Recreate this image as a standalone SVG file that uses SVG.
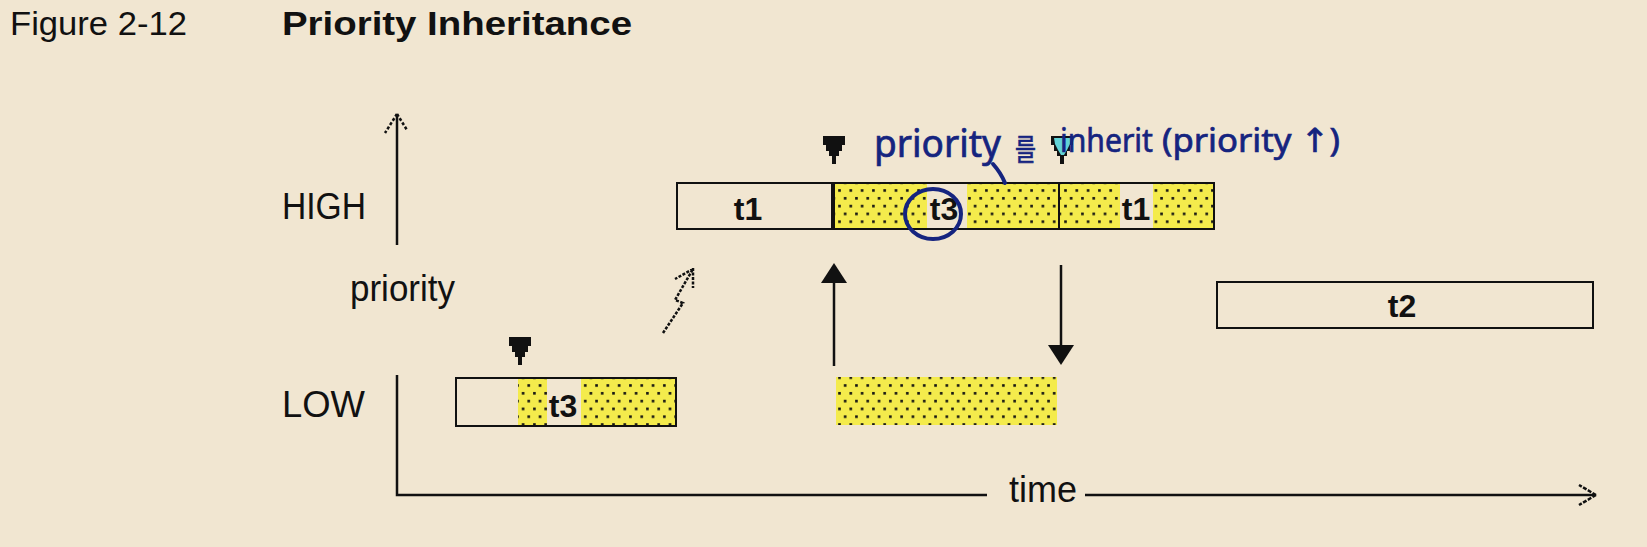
<svg xmlns="http://www.w3.org/2000/svg" width="1647" height="547" viewBox="0 0 1647 547">
<style>
.cap{font-family:"Liberation Sans",Arial,sans-serif;font-size:34px;fill:#111}
.ax{font-family:"Liberation Sans",Arial,sans-serif;font-size:36px;fill:#111}
.lbl{font-family:"Liberation Sans",Arial,sans-serif;font-size:32px;font-weight:bold;fill:#111;text-anchor:middle}
.box{fill:#F1E6D1;stroke:#111;stroke-width:2}
.line{stroke:#111;stroke-width:2.5;fill:none}
.hand{font-family:"Noto Sans","DejaVu Sans","Noto Sans CJK KR",sans-serif;fill:#15247F;stroke:#15247F;stroke-width:0.7}
.ink{stroke:#15247F;stroke-width:4;fill:none;stroke-linecap:round}
</style>
<defs>
<pattern id="dots" width="11.3" height="15.6" patternUnits="userSpaceOnUse">
<rect width="11.3" height="15.6" fill="#F4EB4C"/>
<rect x="2" y="2" width="2.6" height="2.6" fill="#111"/>
<rect x="7.65" y="9.8" width="2.6" height="2.6" fill="#111"/>
</pattern>
<polygon id="tri" points="-11,0 11,0 11,9 8,9 8,15 5,15 5,20 2,20 2,28 -2,28 -2,20 -5,20 -5,15 -8,15 -8,9 -11,9" fill="#111"/>
</defs>
<rect width="1647" height="547" fill="#F1E6D1"/>

<g id="caption">
<text class="cap" x="10" y="35" textLength="177" lengthAdjust="spacingAndGlyphs">Figure 2-12</text>
<text class="cap" x="282" y="35" font-weight="bold" textLength="350" lengthAdjust="spacingAndGlyphs">Priority Inheritance</text>
</g>

<g id="axis-labels">
<text class="ax" x="282" y="219" textLength="84" lengthAdjust="spacingAndGlyphs">HIGH</text>
<text class="ax" x="350" y="301" font-size="34" textLength="105" lengthAdjust="spacingAndGlyphs">priority</text>
<text class="ax" x="282" y="417" textLength="83" lengthAdjust="spacingAndGlyphs">LOW</text>
<text class="ax" x="1009" y="502" font-size="34" textLength="68" lengthAdjust="spacingAndGlyphs">time</text>
</g>

<g id="low-t3">
<rect class="box" x="456" y="378" width="220" height="48"/>
<rect x="518" y="379" width="157" height="46" fill="url(#dots)"/>
<rect x="547" y="379" width="34" height="46" fill="#F1E6D1"/>
<text class="lbl" x="563" y="417">t3</text>
</g>

<g id="high-bar">
<rect class="box" x="677" y="183" width="537" height="46"/>
<rect x="834" y="184" width="379" height="44" fill="url(#dots)"/>
<rect x="927" y="184" width="40" height="44" fill="#F1E6D1"/>
<rect x="1120" y="184" width="33" height="44" fill="#F1E6D1"/>
<line x1="833" y1="183" x2="833" y2="229" stroke="#111" stroke-width="4"/>
<line x1="1059" y1="183" x2="1059" y2="229" stroke="#111" stroke-width="2"/>
<text class="lbl" x="748" y="220">t1</text>
<text class="lbl" x="944" y="220">t3</text>
<text class="lbl" x="1136" y="220">t1</text>
</g>

<g id="t2">
<rect class="box" x="1217" y="282" width="376" height="46"/>
<text class="lbl" x="1402" y="317">t2</text>
</g>

<g id="low-inherited">
<rect x="836" y="377" width="221" height="48" fill="url(#dots)"/>
</g>

<g id="markers">
<use href="#tri" transform="translate(520,337)"/>
<use href="#tri" transform="translate(834,136)"/>
<use href="#tri" transform="translate(1062,136)"/>
<polygon points="-8,2 9,2 8,8 5,14 2,19 -1,19 -4,14 -7,8" transform="translate(1062,136)" fill="#62D3D6"/>
</g>

<g id="connectors">
<line class="line" x1="397" y1="114" x2="397" y2="245"/>
<path d="M397,114 L385,133 M397,114 L407,130" class="line" stroke-width="2" stroke-dasharray="3,2"/>
<polyline class="line" points="397,375 397,495 987,495"/>
<line class="line" x1="1085" y1="495" x2="1595" y2="495"/>
<path d="M1596,495 L1579,485 M1596,495 L1579,505" class="line" stroke-width="2.5" stroke-dasharray="4,1.5"/>
<line class="line" x1="834" y1="283" x2="834" y2="366"/>
<polygon points="834,263 847,283 821,283" fill="#111"/>
<line class="line" x1="1061" y1="265" x2="1061" y2="346"/>
<polygon points="1061,365 1074,345 1048,345" fill="#111"/>
<path d="M663,333 L683,303 L675,300 L693,269" fill="none" stroke="#111" stroke-width="2.5" stroke-dasharray="3,1.5"/>
<path d="M693,268 L693,288 M693,269 L675,279" fill="none" stroke="#111" stroke-width="2.5" stroke-dasharray="3,1.5"/>
</g>

<g id="annotation">
<ellipse class="ink" cx="933" cy="214" rx="28" ry="25"/>
<text class="hand" x="874" y="157" font-size="38" textLength="127" lengthAdjust="spacingAndGlyphs">priority</text>
<path class="ink" stroke-width="3" d="M993,164 Q1001,173 1005,183"/>
<text class="hand" x="1015" y="160" font-size="30" textLength="21" lengthAdjust="spacingAndGlyphs">를</text>
<text class="hand" x="1060" y="152" font-size="33" textLength="93" lengthAdjust="spacingAndGlyphs">inherit</text>
<text class="hand" x="1162" y="152" font-size="33" textLength="178" lengthAdjust="spacingAndGlyphs">(priority ↑)</text>
</g>
</svg>
